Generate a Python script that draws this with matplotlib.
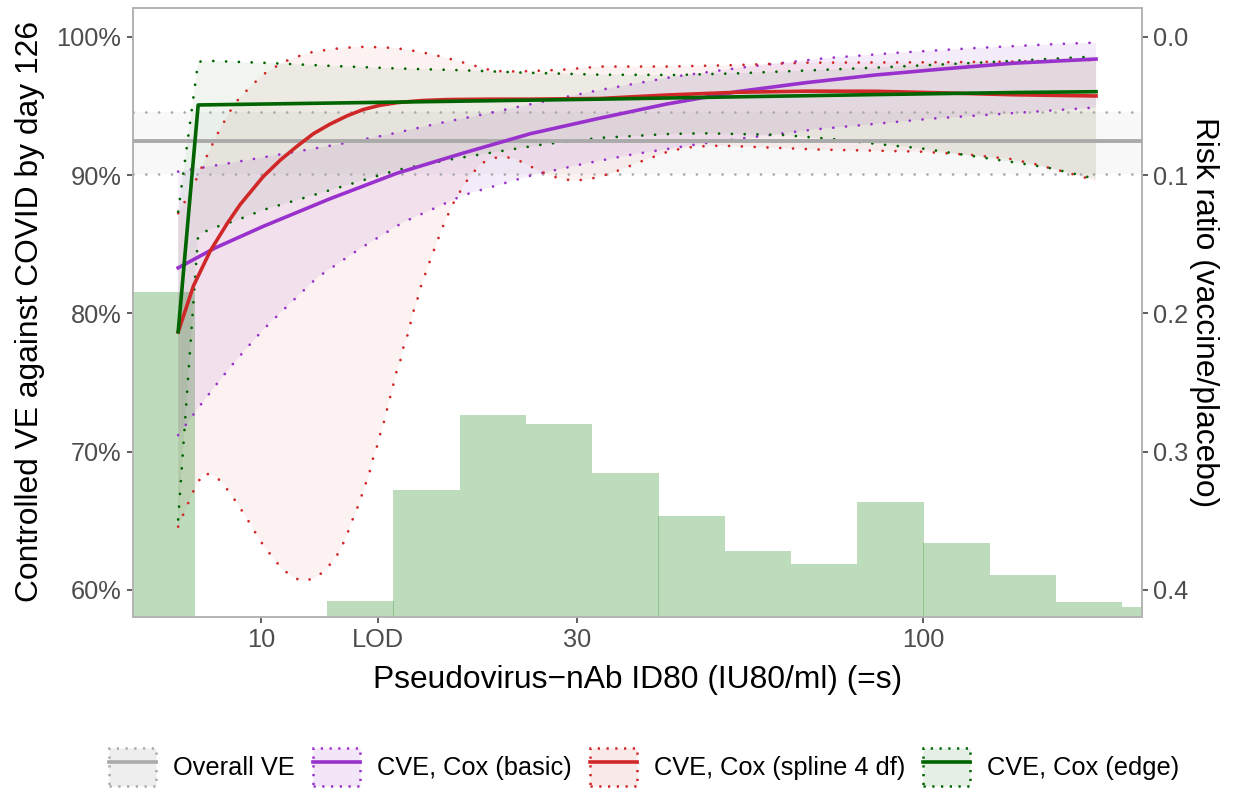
import numpy as np
import matplotlib
matplotlib.use("Agg")
import matplotlib.pyplot as plt
from matplotlib.patches import Patch
from matplotlib.lines import Line2D
from matplotlib.legend_handler import HandlerTuple
from matplotlib.ticker import NullLocator

plt.rcParams['font.family'] = ['Liberation Sans', 'DejaVu Sans']

# --- data -------------------------------------------------------------------
lod = 15.0

# overall VE (%) with 95% CI
overall_ve = 92.48
overall_lo = 90.07
overall_hi = 94.60

# CVE, Cox (basic)
basic_x = [7.5, 8.53, 10.08, 12.72, 16.06, 20.2, 25.5, 32.52, 41.0, 52.48, 66.7,
           84.72, 108.0, 136.7, 182.3]
basic_ve = [83.3, 84.74, 86.3, 88.3, 90.15, 91.6, 93.0, 94.13, 95.15, 96.05, 96.7,
            97.25, 97.7, 98.1, 98.4]
basic_hi_x = [7.5, 8.93, 11.07, 13.17, 15.64, 18.58, 22.06, 25.08, 32.52, 42.06,
              54.6, 70.96, 92.35, 120.0, 156.0, 182.3]
basic_hi = [90.26, 90.86, 91.63, 92.26, 92.96, 93.76, 94.48, 95.06, 96.17, 97.13,
            97.86, 98.46, 98.87, 99.2, 99.47, 99.59]
basic_lo_x = [7.5, 8.05, 8.48, 8.96, 9.49, 10.07, 10.72, 12.16, 14.12, 16.4, 18.46,
              20.2, 21.74, 25.67, 30.55, 36.35, 46.51, 68.18, 103.4, 182.3]
basic_lo = [71.2, 73.19, 74.6, 76.04, 77.43, 78.81, 80.09, 82.6, 84.7, 86.6, 87.7,
            88.55, 89.0, 90.0, 90.8, 91.5, 92.3, 93.3, 94.1, 94.9]

# CVE, Cox (spline 4 df)
spline_x = [7.5, 7.91, 8.38, 8.89, 9.31, 10.08, 10.7, 11.34, 12.0, 12.72, 13.5, 14.27,
            15.1, 16.06, 17.5, 19.11, 22.0, 25.5, 32.52, 41.0, 52.48, 66.7, 84.72,
            108.0, 136.7, 182.3]
spline_ve = [78.66, 82.0, 84.5, 86.5, 87.9, 89.9, 91.1, 92.1, 93.0, 93.7, 94.3, 94.75,
             95.05, 95.25, 95.4, 95.47, 95.5, 95.5, 95.55, 95.8, 96.0, 96.08, 96.07,
             95.95, 95.82, 95.73]
spline_hi_x = [7.5, 7.66, 7.98, 8.27, 8.58, 8.96, 9.18, 9.47, 10.05, 10.81, 11.75,
               12.81, 13.97, 14.62, 15.95, 17.4, 18.84, 20.56, 22.42, 24.45, 28.3,
               32.52, 41.3, 52.48, 66.68, 107.6, 136.7, 182.3]
spline_hi = [87.25, 88.01, 89.66, 91.3, 92.91, 94.55, 95.32, 96.02, 97.25, 98.19,
             98.84, 99.13, 99.28, 99.28, 99.2, 98.92, 98.55, 98.05, 97.54, 97.5,
             97.62, 97.86, 97.86, 97.97, 98.14, 98.17, 98.22, 98.34]
spline_lo_x = [7.5, 7.63, 7.91, 8.18, 8.53, 8.77, 9.02, 9.24, 9.47, 9.7, 9.91, 10.15,
               10.44, 10.73, 11.11, 11.5, 11.99, 12.42, 12.77, 13.13, 13.36, 13.59,
               13.78, 14.02, 14.22, 14.42, 14.62, 14.77, 14.98, 15.14, 15.35, 15.51,
               15.67, 15.84, 16.0, 16.23, 16.4, 16.63, 16.81, 16.98, 17.22, 17.4,
               17.95, 18.78, 19.45, 20.34, 21.43, 22.35, 23.29, 24.28, 25.29, 26.28,
               27.36, 28.53, 29.82, 31.12, 32.44, 33.88, 35.27, 36.73, 41.56, 45.2,
               49.43, 59.17, 69.96, 83.69, 99.58, 118.5, 135.1, 147.8, 160.7, 174.8,
               182.3]
spline_lo = [64.58, 65.44, 67.16, 68.46, 68.25, 67.67, 66.87, 66.15, 65.35, 64.56,
             63.76, 63.04, 62.31, 61.59, 61.01, 60.65, 60.8, 61.3, 61.95, 62.75,
             63.54, 64.41, 65.21, 66.08, 66.94, 67.81, 68.68, 69.55, 70.42, 71.28,
             72.22, 73.09, 73.96, 74.83, 75.7, 76.56, 77.5, 78.37, 79.24, 80.11,
             80.98, 81.84, 83.65, 86.18, 87.85, 89.44, 90.81, 91.23, 91.34, 91.16,
             90.74, 90.33, 89.97, 89.71, 89.61, 89.71, 89.87, 90.18, 90.47, 90.84,
             91.78, 92.07, 92.14, 91.99, 91.85, 91.78, 91.7, 91.46, 91.18, 90.79,
             90.33, 89.85, 89.53]

# CVE, Cox (edge)
edge_x = [7.5, 8.04, 32.52, 52.48, 84.72, 136.7, 182.3]
edge_ve = [78.68, 95.08, 95.5, 95.67, 95.83, 95.98, 96.04]
edge_hi_x = [7.5, 8.04, 8.38, 10.08, 12.72, 16.06, 20.2, 24.88, 32.52, 42.33, 52.48,
             84.72, 121.3, 182.3]
edge_hi = [87.36, 98.21, 98.27, 98.13, 97.91, 97.72, 97.59, 97.42, 97.27, 97.25,
           97.37, 97.78, 98.14, 98.59]
edge_lo_x = [7.5, 8.04, 8.47, 9.21, 10.08, 11.34, 13.5, 16.06, 19.11, 22.73, 26.8,
             32.52, 41.3, 46.57, 52.48, 61.33, 73.4, 87.81, 98.97, 118.5, 135.1,
             154.1, 167.6, 182.3]
edge_lo = [65.1, 85.7, 86.18, 86.76, 87.49, 88.21, 89.29, 90.38, 91.1, 91.7, 92.24,
           92.7, 92.98, 93.03, 92.98, 92.91, 92.6, 92.19, 91.95, 91.39, 90.98, 90.55,
           90.14, 89.73]

# marker distribution (share of vaccine recipients per bin, %)
hist_edges = [6.31, 7.94, 10.0, 12.59, 15.85, 19.95, 25.12, 31.62, 39.81, 50.12,
              63.1, 79.43, 100.0, 125.9, 158.5, 199.5, 251.2]
hist_pct = [22.0, 0.0, 0.0, 1.05, 8.57, 13.65, 13.04, 9.72, 6.81, 4.44, 3.56, 7.76,
            4.98, 2.81, 0.98, 0.64]

x_ticks = [10, lod, 30, 100]
x_ticklabels = ['10', 'LOD', '30', '100']
ve_ticks = [60, 70, 80, 90, 100]
rr_ticks = [0.0, 0.1, 0.2, 0.3, 0.4]

# --- styles -----------------------------------------------------------------
col_overall = '#AAAAAA'
col_basic = '#9932CC'
col_spline = '#D02828'
col_edge = '#006400'
dots = (0, (0.01, 4.6))

fig = plt.figure(figsize=(12.35, 7.94), dpi=100)
ax = fig.add_axes([133 / 1235, 1 - 616.5 / 794, 1008.5 / 1235, 609 / 794])
ax.set_xscale('log')
ax.set_xlim(6.41, 213.5)
y0, y1 = 58.08, 102.13
ax.set_ylim(y0, y1)

# histogram scaled to the lower half of the panel
hist_top = 0.533 * (y1 - y0)
edges = np.array(hist_edges)
hp = np.array(hist_pct)
ax.bar(edges[:-1], hp / hp.max() * hist_top, width=np.diff(edges) * 1.004,
       bottom=y0, align='edge', color='forestgreen', alpha=0.3, lw=0, zorder=1)

# overall VE
ax.axhspan(overall_lo, overall_hi, color=col_overall, alpha=0.08, lw=0, zorder=1.5)
for v in (overall_lo, overall_hi):
    ax.axhline(v, color=col_overall, lw=2.0, ls=dots, dash_capstyle='round', zorder=3)
ax.axhline(overall_ve, color=col_overall, lw=2.8, zorder=3.5)


def band(xh, yh, xl, yl, col, alpha):
    ax.fill(np.r_[xh, xl[::-1]], np.r_[yh, yl[::-1]], color=col, alpha=alpha,
            lw=0, zorder=2)
    ax.plot(xh, yh, color=col, lw=2.0, ls=dots, dash_capstyle='round', zorder=3)
    ax.plot(xl, yl, color=col, lw=2.0, ls=dots, dash_capstyle='round', zorder=3)


band(basic_hi_x, basic_hi, basic_lo_x, basic_lo, col_basic, 0.09)
band(spline_hi_x, spline_hi, spline_lo_x, spline_lo, col_spline, 0.06)
band(edge_hi_x, edge_hi, edge_lo_x, edge_lo, col_edge, 0.06)

ax.plot(basic_x, basic_ve, color=col_basic, lw=2.6, zorder=4, solid_joinstyle='round')
ax.plot(spline_x, spline_ve, color=col_spline, lw=2.6, zorder=4, solid_joinstyle='round')
ax.plot(edge_x, edge_ve, color=col_edge, lw=2.6, zorder=4.5)

# axes
ax.set_xticks(x_ticks, x_ticklabels)
ax.xaxis.set_minor_locator(NullLocator())
ax.set_yticks(ve_ticks, [f'{v}%' for v in ve_ticks])
ax.tick_params(length=4.5, width=1.1, color='#333333', labelcolor='#4D4D4D',
               labelsize=18.3, pad=4)
for s in ax.spines.values():
    s.set_color('#B3B3B3')
    s.set_linewidth(1.4)

sec = ax.secondary_yaxis('right', functions=(lambda v: 1 - v / 100,
                                             lambda r: 100 * (1 - r)))
sec.set_yticks(rr_ticks, [f'{r:.1f}' for r in rr_ticks])
sec.tick_params(length=4.5, width=1.1, color='#333333', labelcolor='#4D4D4D',
                labelsize=18.3, pad=4)
sec.spines['right'].set_visible(False)
sec.set_ylabel('Risk ratio (vaccine/placebo)', fontsize=22.9, rotation=270,
               labelpad=22)

ax.set_xlabel('Pseudovirus\u2212nAb ID80 (IU80/ml) (=s)', fontsize=22.9, labelpad=9)
ax.set_ylabel('Controlled VE against COVID by day 126', fontsize=22.9, labelpad=8)

# legend: light box with dotted border plus the estimate line
def key(col, alpha):
    box = Patch(facecolor=(matplotlib.colors.to_rgb(col) + (alpha,)), edgecolor=col,
                lw=1.8, linestyle=(0, (0.9, 2.6)))
    return (box, Line2D([], [], color=col, lw=2.6))


handles = [key(col_overall, 0.2), key(col_basic, 0.12), key(col_spline, 0.1),
           key(col_edge, 0.1)]
labels = ['Overall VE', 'CVE, Cox (basic)', 'CVE, Cox (spline 4 df)',
          'CVE, Cox (edge)']
fig.legend(handles, labels, loc='center', bbox_to_anchor=(644.5 / 1235, 1 - 767 / 794),
           ncol=4, frameon=False, fontsize=18.3, handlelength=1.85, handleheight=1.9,
           handletextpad=0.67, columnspacing=0.71,
           handler_map={tuple: HandlerTuple(ndivide=1)})

fig.savefig('out.png', dpi=100)
